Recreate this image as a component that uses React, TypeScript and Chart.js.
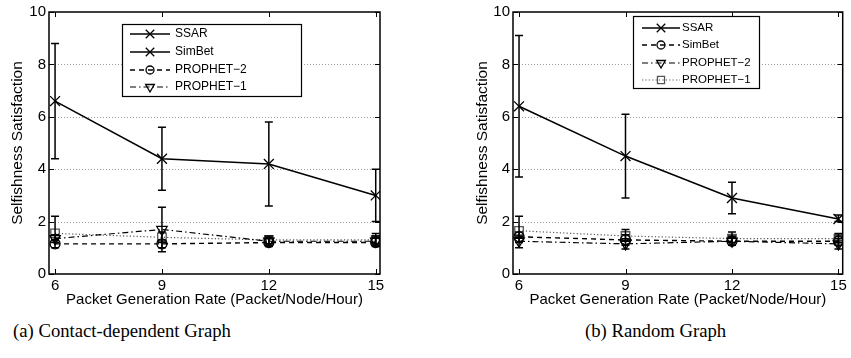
import React, { useEffect, useRef } from 'react';
import { Chart, registerables } from 'chart.js';
import { drawPoint } from 'chart.js/helpers';

Chart.register(...registerables);

// ---------- data ----------
const rates = [6, 9, 12, 15];
const xTicks = [6, 9, 12, 15];
const yTicks = [0, 2, 4, 6, 8, 10];
const xTitle = 'Packet Generation Rate (Packet/Node/Hour)';
const yTitle = 'Selfishness Satisfaction';

// (a) Contact-dependent Graph
const ssarA = [6.6, 4.4, 4.2, 3.0];
const ssarLowA = [4.4, 3.2, 2.6, 2.0];
const ssarHighA = [8.8, 5.6, 5.8, 4.0];
const dashedA = [1.15, 1.15, 1.2, 1.2];
const dashedLowA = [1.0, 1.0, 1.05, 1.05];
const dashedHighA = [1.3, 1.3, 1.35, 1.4];
const dashDotA = [1.35, 1.7, 1.25, 1.25];
const dashDotLowA = [1.2, 0.85, 1.1, 1.1];
const dashDotHighA = [1.5, 2.55, 1.4, 1.45];
const dottedA = [1.55, 1.4, 1.3, 1.3];
const dottedLowA = [1.3, 1.2, 1.15, 1.15];
const dottedHighA = [2.2, 1.6, 1.45, 1.55];
const legendLabelsA = ['SSAR', 'SimBet', 'PROPHET\u22122', 'PROPHET\u22121'];
const legendStylesA = ['solidX', 'solidX', 'dashedO', 'dashDotV'];
const captionA = '(a) Contact-dependent Graph';

// (b) Random Graph
const ssarB = [6.4, 4.5, 2.9, 2.1];
const ssarLowB = [3.7, 2.9, 2.3, 2.0];
const ssarHighB = [9.1, 6.1, 3.5, 2.25];
const simbetB = [1.42, 1.3, 1.25, 1.25];
const simbetLowB = [1.2, 1.1, 1.1, 1.1];
const simbetHighB = [1.6, 1.5, 1.4, 1.45];
const prophet2B = [1.25, 1.15, 1.25, 1.15];
const prophet2LowB = [1.0, 0.95, 1.1, 0.95];
const prophet2HighB = [1.45, 1.35, 1.45, 1.35];
const prophet1B = [1.65, 1.45, 1.35, 1.35];
const prophet1LowB = [1.4, 1.25, 1.2, 1.2];
const prophet1HighB = [2.2, 1.7, 1.6, 1.55];
const legendLabelsB = ['SSAR', 'SimBet', 'PROPHET\u22122', 'PROPHET\u22121'];
const legendStylesB = ['solidX', 'dashedO', 'dashDotV', 'dottedSq'];
const captionB = '(b) Random Graph';

// ---------- styles ----------
type Style = { dash: number[]; point: string; rot: number; radius: number; width: number; color: string };
const STYLES: Record<string, Style> = {
  solidX: { dash: [], point: 'crossRot', rot: 0, radius: 7, width: 1.6, color: '#000' },
  dashedO: { dash: [5, 4], point: 'circle', rot: 0, radius: 5, width: 1.4, color: '#000' },
  dashDotV: { dash: [6, 3, 1.5, 3], point: 'triangle', rot: 180, radius: 6, width: 1.2, color: '#000' },
  dottedSq: { dash: [1.2, 2.2], point: 'rect', rot: 0, radius: 6, width: 1.2, color: '#555' },
};

const FONT = 'Liberation Sans, Arial, Helvetica, sans-serif';

function series(label: string, values: number[], styleKey: string, low: number[], high: number[]) {
  const s = STYLES[styleKey];
  return {
    label,
    data: rates.map((x, i) => ({ x, y: values[i] })),
    borderColor: s.color,
    borderWidth: s.width,
    borderDash: s.dash,
    pointStyle: s.point,
    pointRotation: s.rot,
    pointRadius: s.radius,
    pointHoverRadius: s.radius,
    pointBorderColor: s.color,
    pointBackgroundColor: 'rgba(0,0,0,0)',
    pointBorderWidth: 1.3,
    fill: false,
    tension: 0,
    errLow: low,
    errHigh: high,
  };
}

const figPlugin = {
  id: 'figExtras',
  beforeDatasetsDraw(chart: any) {
    const { ctx, chartArea: a, scales } = chart;
    const y = scales.y;
    ctx.save();
    ctx.strokeStyle = '#9a9a9a';
    ctx.lineWidth = 1;
    ctx.setLineDash([1, 2]);
    yTicks.slice(1, -1).forEach((v) => {
      const py = Math.round(y.getPixelForValue(v)) + 0.5;
      ctx.beginPath();
      ctx.moveTo(a.left, py);
      ctx.lineTo(a.right, py);
      ctx.stroke();
    });
    ctx.restore();
  },
  afterDatasetsDraw(chart: any, _args: any, opts: any) {
    const { ctx, chartArea: a, scales } = chart;
    const xs = scales.x;
    const ys = scales.y;
    ctx.save();
    // error bars
    ctx.strokeStyle = '#000';
    ctx.lineWidth = 1.5;
    ctx.setLineDash([]);
    chart.data.datasets.forEach((ds: any) => {
      if (!ds.errLow) return;
      rates.forEach((r, i) => {
        const px = xs.getPixelForValue(r);
        const p1 = ys.getPixelForValue(ds.errLow[i]);
        const p2 = ys.getPixelForValue(ds.errHigh[i]);
        ctx.beginPath();
        ctx.moveTo(px, p1);
        ctx.lineTo(px, p2);
        ctx.moveTo(px - 4, p1);
        ctx.lineTo(px + 4, p1);
        ctx.moveTo(px - 4, p2);
        ctx.lineTo(px + 4, p2);
        ctx.stroke();
      });
    });
    // box
    ctx.lineWidth = 1.5;
    ctx.strokeRect(a.left, a.top, a.right - a.left, a.bottom - a.top);
    // inward ticks
    ctx.lineWidth = 1;
    const tl = 5;
    ctx.beginPath();
    xTicks.forEach((v) => {
      const px = Math.round(xs.getPixelForValue(v)) + 0.5;
      ctx.moveTo(px, a.bottom);
      ctx.lineTo(px, a.bottom - tl);
      ctx.moveTo(px, a.top);
      ctx.lineTo(px, a.top + tl);
    });
    yTicks.forEach((v) => {
      const py = Math.round(ys.getPixelForValue(v)) + 0.5;
      ctx.moveTo(a.left, py);
      ctx.lineTo(a.left + tl, py);
      ctx.moveTo(a.right, py);
      ctx.lineTo(a.right - tl, py);
    });
    ctx.stroke();
    // legend
    const lg = opts.legend;
    if (lg) {
      ctx.fillStyle = '#fff';
      ctx.fillRect(lg.left, lg.top, lg.right - lg.left, lg.bottom - lg.top);
      ctx.strokeStyle = '#000';
      ctx.lineWidth = 1.2;
      ctx.strokeRect(lg.left + 0.5, lg.top + 0.5, lg.right - lg.left, lg.bottom - lg.top);
      lg.labels.forEach((label: string, i: number) => {
        const s = STYLES[lg.styles[i]];
        const yy = lg.rowY[i];
        ctx.strokeStyle = s.color;
        ctx.lineWidth = s.width;
        ctx.setLineDash(s.dash);
        ctx.beginPath();
        ctx.moveTo(lg.lineX[0], yy);
        ctx.lineTo(lg.lineX[1], yy);
        ctx.stroke();
        ctx.setLineDash([]);
        ctx.lineWidth = 1.3;
        ctx.fillStyle = 'rgba(0,0,0,0)';
        drawPoint(ctx, { pointStyle: s.point, rotation: s.rot, radius: s.radius - 1, borderWidth: 1.3 } as any,
          (lg.lineX[0] + lg.lineX[1]) / 2, yy);
        ctx.fillStyle = '#000';
        ctx.font = `${lg.fontSize}px ${FONT}`;
        ctx.textBaseline = 'middle';
        ctx.textAlign = 'left';
        ctx.fillText(label, lg.textX, yy);
      });
    }
    ctx.restore();
  },
};

function makeConfig(datasets: any[], yWidth: number, padding: any, legend: any) {
  return {
    type: 'line',
    data: { datasets },
    plugins: [figPlugin],
    options: {
      animation: false,
      responsive: false,
      devicePixelRatio: 1,
      layout: { padding },
      plugins: {
        legend: { display: false },
        tooltip: { enabled: false },
        figExtras: { legend },
      },
      scales: {
        x: {
          type: 'linear',
          min: 5.83,
          max: 15.12,
          afterBuildTicks: (sc: any) => { sc.ticks = xTicks.map((v) => ({ value: v })); },
          afterFit: (sc: any) => { sc.height = 36; },
          grid: { display: false, drawTicks: false },
          border: { display: false },
          ticks: { padding: 3, color: '#000', font: { family: FONT, size: 15 }, maxRotation: 0, autoSkip: false },
          title: { display: true, text: xTitle, color: '#000', font: { family: FONT, size: 15 }, padding: { top: 0, bottom: 1 } },
        },
        y: {
          type: 'linear',
          min: 0,
          max: 10,
          afterBuildTicks: (sc: any) => { sc.ticks = yTicks.map((v) => ({ value: v })); },
          afterFit: (sc: any) => { sc.width = yWidth; },
          grid: { display: false, drawTicks: false },
          border: { display: false },
          ticks: { padding: 3, color: '#000', font: { family: FONT, size: 15 } },
          title: { display: true, text: yTitle, color: '#000', font: { family: FONT, size: 15.5 }, padding: { top: 8, bottom: 0 } },
        },
      },
    },
  };
}

function Panel(props: { left: number; width: number; config: any }) {
  const ref = useRef<HTMLCanvasElement>(null);
  useEffect(() => {
    const chart = new Chart(ref.current as HTMLCanvasElement, props.config);
    return () => chart.destroy();
  }, []);
  return (
    <canvas
      ref={ref}
      width={props.width}
      height={310}
      style={{ position: 'absolute', left: props.left, top: 0, width: props.width, height: 310 }}
    />
  );
}

export default function App() {
  const dsA = [
    series('SSAR', ssarA, 'solidX', ssarLowA, ssarHighA),
    series('PROPHET-2', dashedA, 'dashedO', dashedLowA, dashedHighA),
    series('PROPHET-1', dashDotA, 'dashDotV', dashDotLowA, dashDotHighA),
    series('other', dottedA, 'dottedSq', dottedLowA, dottedHighA),
  ];
  const dsB = [
    series('SSAR', ssarB, 'solidX', ssarLowB, ssarHighB),
    series('SimBet', simbetB, 'dashedO', simbetLowB, simbetHighB),
    series('PROPHET-2', prophet2B, 'dashDotV', prophet2LowB, prophet2HighB),
    series('PROPHET-1', prophet1B, 'dottedSq', prophet1LowB, prophet1HighB),
  ];
  const cfgA = makeConfig(dsA, 49, { left: 0, top: 11, right: 45, bottom: 0 }, {
    left: 122, top: 24, right: 301, bottom: 96,
    rowY: [34, 52, 70, 87], lineX: [130, 170], textX: 175, fontSize: 12,
    labels: legendLabelsA, styles: legendStylesA,
  });
  const cfgB = makeConfig(dsB, 48, { left: 40, top: 11, right: 8, bottom: 0 }, {
    left: 208, top: 16, right: 334, bottom: 88,
    rowY: [28, 45, 63, 80], lineX: [217, 255], textX: 257, fontSize: 11.5,
    labels: legendLabelsB, styles: legendStylesB,
  });
  const capStyle: React.CSSProperties = {
    position: 'absolute', top: 320, fontFamily: 'Liberation Serif, DejaVu Serif, serif', fontSize: 18.7,
    lineHeight: '22px', whiteSpace: 'nowrap', color: '#000',
  };
  return (
    <div style={{ position: 'fixed', left: 0, top: 0, width: 851, height: 358, background: '#fff', overflow: 'hidden' }}>
      <Panel left={0} width={425} config={cfgA} />
      <Panel left={425} width={426} config={cfgB} />
      <div style={{ ...capStyle, left: 13 }}>{captionA}</div>
      <div style={{ ...capStyle, left: 585 }}>{captionB}</div>
    </div>
  );
}
